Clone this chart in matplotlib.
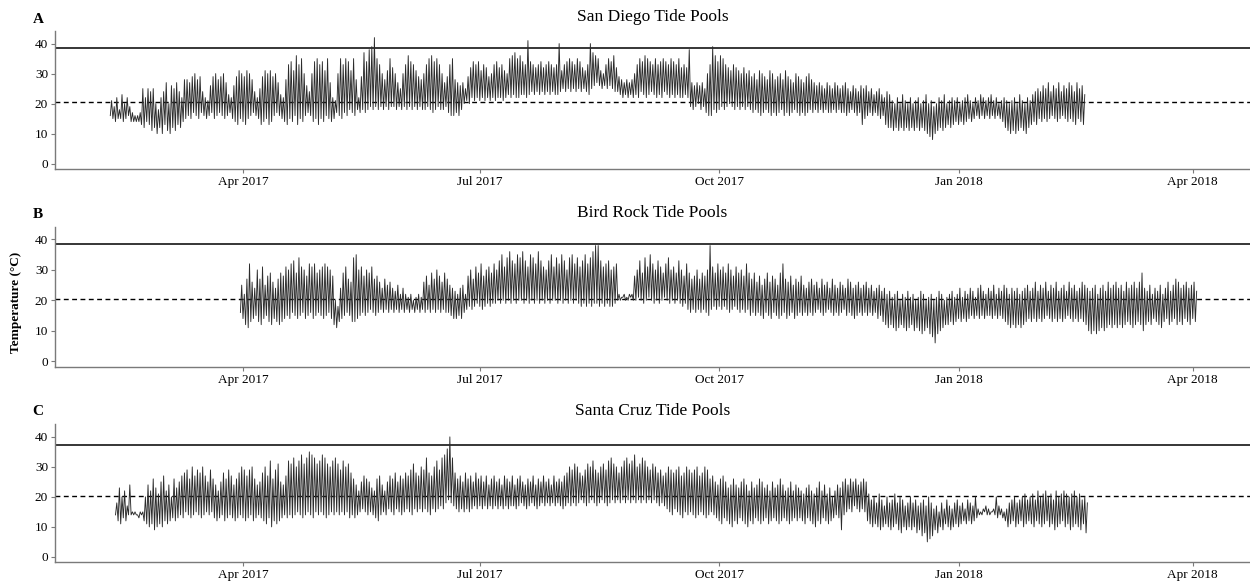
import numpy as np
import pandas as pd
import matplotlib
matplotlib.use('Agg')
import matplotlib.pyplot as plt
import matplotlib.dates as mdates

plt.rcParams['font.family'] = ['Liberation Serif', 'DejaVu Serif']

# temperaturas diarias (maxima y minima por dia)
sd_start = '2017-02-09'
sd_high = [
    21,19,22,18,23,20,22,19,17,16,16,17,25,22,25,
    24,25,20,18,22,24,27,20,26,25,27,24,22,28,28,
    27,29,30,28,29,24,22,21,26,29,30,28,29,30,27,
    23,22,26,29,31,30,29,31,30,28,24,22,25,29,31,
    30,31,29,30,27,23,22,28,33,34,31,36,33,35,30,
    26,24,30,34,35,33,34,31,35,27,22,21,30,35,33,
    35,34,31,35,28,22,29,37,34,38,39,42,35,33,30,
    28,31,35,32,30,27,25,30,33,36,34,33,31,29,28,
    30,33,35,36,34,35,33,30,27,29,33,35,28,27,26,
    27,25,29,32,34,33,34,31,33,32,29,30,33,34,32,
    33,31,30,35,36,37,35,36,34,33,41,34,33,32,33,
    34,32,33,34,33,32,33,40,31,33,34,35,34,33,35,
    34,32,31,33,40,37,36,35,31,30,33,35,34,36,32,
    29,28,27,28,27,28,30,33,35,34,36,35,34,33,35,
    33,34,35,34,33,35,34,33,35,32,33,32,38,27,26,
    27,26,27,25,30,33,39,36,34,36,35,33,32,31,33,
    32,31,30,32,30,31,29,30,28,31,30,29,28,31,30,
    28,29,30,28,31,29,28,27,30,29,28,27,29,30,28,
    27,26,27,26,25,27,26,25,27,26,25,26,27,25,24,
    26,25,24,26,25,26,24,25,23,24,25,23,22,24,23,
    21,20,22,20,23,21,20,22,20,21,22,20,21,23,20,
    21,19,20,22,21,23,20,21,22,21,22,20,21,22,23,
    21,20,22,21,23,22,21,22,23,21,22,20,21,22,21,
    20,21,22,20,23,21,20,22,21,23,24,25,24,26,25,
    27,24,26,25,27,24,26,25,27,26,24,27,25,26,23]
sd_low = [
    16,15,14,15,15,14,15,16,14,14,14,14,13,12,14,
    13,11,12,10,12,10,13,11,10,12,11,13,12,14,15,
    16,15,17,16,15,17,16,15,16,17,15,16,17,16,15,
    16,17,15,14,13,15,14,13,15,16,17,16,15,13,14,
    15,13,14,16,17,16,15,14,13,15,14,16,13,15,14,
    16,17,16,14,15,13,15,14,16,15,14,15,17,16,15,
    17,16,18,17,16,18,17,18,17,18,19,18,19,18,19,
    18,19,18,19,19,18,19,18,19,18,19,18,19,18,19,
    18,18,19,18,17,18,19,18,18,19,17,16,16,17,16,
    18,20,21,20,22,21,22,21,22,21,22,21,22,21,22,
    22,21,22,23,22,23,22,22,23,23,22,23,24,23,24,
    23,24,23,24,23,24,23,23,24,25,24,25,24,25,24,
    25,24,25,24,23,25,26,27,26,25,26,25,26,25,24,
    24,23,22,23,22,23,22,23,22,24,23,22,23,24,23,
    22,23,22,24,23,22,23,22,23,22,22,23,22,19,18,
    19,20,18,19,17,16,16,18,17,18,19,18,19,20,19,
    18,19,18,19,18,19,18,17,18,17,16,17,18,17,16,
    17,16,17,18,16,17,16,17,18,17,16,17,16,17,18,
    17,18,17,18,17,18,17,17,18,17,18,17,17,16,17,
    18,17,16,17,13,15,16,17,16,17,16,15,16,13,12,
    12,11,12,11,12,11,12,11,12,11,12,11,12,11,10,
    9,8,10,11,12,11,12,13,12,13,14,13,14,13,14,
    15,14,15,16,15,16,15,16,15,16,15,16,15,14,12,
    11,10,11,10,11,12,11,10,12,13,14,13,15,14,15,
    14,15,16,15,14,15,16,15,14,15,14,13,15,14,13]

br_start = '2017-03-31'
br_high = [
    25,22,27,32,26,24,30,27,31,25,28,29,26,24,27,29,
    28,31,30,32,33,29,34,31,30,28,32,31,32,29,30,31,
    32,31,30,28,20,18,24,29,31,27,26,34,35,30,31,28,
    30,29,31,27,28,26,24,27,25,26,24,23,25,22,24,22,
    21,22,20,21,22,21,26,28,25,29,27,30,28,26,29,27,
    25,24,23,22,24,25,22,28,30,27,31,29,32,28,30,31,
    29,32,30,33,35,31,34,36,33,32,35,34,36,33,31,35,
    34,32,36,33,31,30,33,35,31,34,32,35,33,30,34,35,
    32,34,31,33,35,32,34,36,38,38,33,31,32,33,30,31,
    32,22,21,22,21,22,22,28,30,33,29,34,31,35,32,30,
    33,31,29,32,34,30,31,29,33,30,28,32,29,27,28,30,
    27,29,28,30,38,31,29,32,30,31,29,32,30,28,31,29,
    30,28,32,29,27,29,26,28,25,27,29,26,28,27,25,29,
    32,27,26,28,25,27,26,28,25,24,26,27,25,26,24,27,
    25,26,24,27,25,24,26,25,24,27,26,24,25,26,24,25,
    26,24,25,23,24,25,23,24,22,23,21,22,23,20,22,21,
    23,21,22,20,21,23,22,20,21,22,20,21,23,22,20,21,
    22,23,21,22,24,21,23,22,24,23,21,24,25,23,22,24,
    23,25,22,24,23,25,24,22,24,23,24,22,23,24,25,23,
    24,26,23,25,24,26,23,25,24,26,23,24,25,23,26,24,
    25,23,24,26,25,24,23,24,25,22,24,25,23,26,24,25,
    26,24,25,23,26,24,25,26,24,26,29,24,23,25,22,24,
    23,25,22,24,26,23,25,27,26,24,25,26,24,25,26,23]
br_low = [
    16,14,12,11,13,14,15,13,12,14,15,13,12,14,13,12,
    13,14,15,14,16,15,14,15,16,14,15,16,14,15,16,15,
    14,15,16,14,12,11,13,14,15,16,15,13,13,14,15,16,
    15,16,17,16,15,16,17,16,17,16,17,16,17,16,17,16,
    17,16,17,16,17,16,17,16,17,16,17,16,17,16,17,16,
    16,15,14,14,15,14,16,17,18,17,18,19,18,17,18,19,
    18,19,19,20,19,20,19,20,19,20,19,20,20,19,20,19,
    20,19,20,19,20,19,20,19,20,20,19,20,19,20,19,20,
    19,20,19,18,19,18,19,18,19,19,18,19,18,19,18,18,
    19,20,20,21,20,20,21,20,20,21,20,19,20,21,20,19,
    20,19,20,21,20,19,20,19,20,19,18,19,17,16,17,16,
    17,16,17,16,15,17,18,17,18,17,18,17,16,17,18,17,
    16,17,16,17,15,16,15,16,15,14,16,15,14,16,15,14,
    15,16,14,15,16,14,15,16,15,16,15,16,15,16,17,16,
    15,16,17,16,15,16,15,16,17,15,16,15,14,15,16,15,
    16,15,16,15,16,14,15,13,12,11,12,11,10,11,12,11,
    10,11,12,10,11,10,9,10,11,9,8,6,9,10,11,12,
    12,13,12,13,14,13,14,13,14,15,14,15,14,15,14,15,
    15,14,15,14,15,14,13,12,11,12,11,12,11,12,13,14,
    13,14,13,14,13,14,15,14,13,14,13,14,13,14,15,14,
    13,14,13,14,13,12,10,9,10,9,10,11,10,11,12,11,
    12,11,12,11,12,13,12,11,12,13,12,10,12,13,12,14,
    13,12,11,13,14,12,13,14,12,13,12,14,13,12,14,13]

sc_start = '2017-02-11'
sc_high = [
    18,23,20,22,17,24,15,15,14,15,15,20,24,22,26,23,21,
    25,27,22,24,20,26,23,25,27,28,29,26,30,27,29,28,30,
    27,25,29,26,24,22,25,28,26,29,27,24,26,28,30,29,27,
    29,30,26,24,25,28,30,27,32,26,29,31,25,24,27,32,31,
    33,30,32,34,31,33,35,34,33,31,32,34,33,31,30,32,33,
    31,29,32,30,31,28,26,24,22,25,27,26,25,23,22,26,27,
    24,22,25,27,26,28,25,27,26,28,27,29,31,28,27,30,29,
    33,28,27,30,32,29,33,34,36,40,33,28,26,27,25,28,26,
    27,25,28,26,27,25,27,24,26,27,25,26,24,27,26,25,27,
    24,26,27,25,24,26,25,27,24,26,25,27,25,26,24,27,25,
    26,25,27,28,30,29,31,30,28,27,29,31,30,32,29,28,30,
    31,29,32,33,31,30,28,30,32,33,31,32,34,30,31,33,32,
    30,29,31,30,28,29,27,28,30,29,28,29,30,27,28,30,29,
    28,29,30,27,28,30,29,26,27,25,24,26,27,25,23,24,26,
    24,23,25,26,24,22,25,23,24,26,25,23,24,22,25,23,24,
    26,24,22,23,25,22,24,23,22,21,23,24,22,21,23,25,22,
    24,21,23,20,22,24,23,25,26,24,26,25,26,24,25,26,25,
    21,19,20,18,21,19,17,20,18,19,21,18,20,19,17,18,20,
    18,19,17,18,19,17,20,18,16,17,15,18,16,19,17,16,18,
    19,17,18,16,19,18,17,20,16,15,16,17,16,15,16,20,17,
    16,15,16,18,19,20,18,19,20,21,19,20,21,19,22,20,21,
    22,20,21,19,22,20,21,22,21,20,21,22,20,21,19,20,18]
sc_low = [
    14,12,11,13,12,14,14,14,14,13,14,12,11,10,11,9,10,
    11,10,12,11,12,13,12,13,14,13,15,14,13,14,15,14,13,
    14,15,14,15,13,12,13,14,12,13,14,13,12,13,14,13,12,
    13,14,12,13,14,13,12,11,13,10,12,11,12,13,14,13,14,
    13,14,15,14,13,14,15,14,13,15,14,15,14,13,14,15,14,
    15,14,15,14,15,13,14,13,14,15,16,15,14,15,14,13,12,
    14,15,14,16,15,14,16,15,14,15,16,15,14,16,15,16,15,
    16,15,14,16,15,16,17,16,18,19,18,17,16,15,16,15,16,
    15,16,17,16,17,16,17,16,17,16,17,16,17,16,17,16,17,
    17,16,17,18,17,16,17,18,17,16,17,18,17,18,17,18,17,
    18,17,16,17,18,17,18,17,18,19,18,17,18,19,18,17,18,
    19,18,17,18,19,18,19,18,19,18,19,18,19,18,19,18,19,
    18,19,18,19,18,17,18,17,16,15,14,16,15,14,13,15,14,
    15,14,13,14,15,14,13,14,15,14,13,12,11,13,12,11,10,
    12,11,13,12,11,10,12,11,13,12,11,12,13,11,12,13,12,
    11,12,13,12,11,12,13,12,13,12,11,13,12,11,10,12,11,
    13,12,11,12,13,14,13,9,14,15,16,15,17,16,15,16,15,
    12,11,10,11,10,9,10,11,10,9,10,11,9,8,10,9,10,
    9,10,8,9,7,8,5,6,7,9,8,10,9,11,10,9,10,
    11,10,11,12,11,12,11,12,13,14,14,15,14,14,15,14,13,
    14,13,12,10,11,12,10,11,12,10,11,12,11,10,12,11,10,
    11,12,10,11,9,10,11,12,10,11,9,10,11,10,9,11,8]

titles = ['San Diego Tide Pools', 'Bird Rock Tide Pools', 'Santa Cruz Tide Pools']
letters = ['A', 'B', 'C']
upper_lines = [38.6, 38.5, 37.2]
mean_lines = [20.4, 20.5, 20.4]
tick_dates = ['2017-04-01', '2017-07-01', '2017-10-01', '2018-01-01', '2018-04-01']
tick_labels = ['Apr 2017', 'Jul 2017', 'Oct 2017', 'Jan 2018', 'Apr 2018']

series = [(sd_start, sd_high, sd_low), (br_start, br_high, br_low), (sc_start, sc_high, sc_low)]
for s, h, l in series:
    assert len(h) == len(l), (s, len(h), len(l))

fig = plt.figure(figsize=(12.5, 5.82), dpi=100)
# posiciones de los paneles (fraccion de la figura)
boxes = [(0.044, 0.7096, 0.956, 0.2371),
         (0.044, 0.3700, 0.956, 0.2405),
         (0.044, 0.0339, 0.956, 0.2371)]
letter_y = [0.966, 0.631, 0.293]

x0 = mdates.date2num(pd.Timestamp('2017-01-18 18:00'))
x1 = mdates.date2num(pd.Timestamp('2018-04-23'))

for k in range(3):
    start, hi, lo = series[k]
    ax = fig.add_axes(boxes[k])
    t = mdates.date2num(pd.Timestamp(start)) + np.arange(len(hi))
    # serie en zigzag: minimo de madrugada, maximo a mediodia
    tx = np.column_stack([t, t + 0.5]).ravel()
    ty = np.column_stack([lo, hi]).ravel()
    ax.axhline(upper_lines[k], color='black', lw=1.1, zorder=1)
    ax.axhline(mean_lines[k], color='black', lw=1.0, ls=(0, (3.5, 2.5)), zorder=1)
    ax.plot(tx, ty, color='#2b2b2b', lw=0.65, zorder=2)
    ax.set_xlim(x0, x1)
    ax.set_ylim(-1.8, 44.2)
    ax.set_yticks([0, 10, 20, 30, 40])
    ax.set_xticks([mdates.date2num(pd.Timestamp(d)) for d in tick_dates])
    ax.set_xticklabels(tick_labels)
    for sp in ['top', 'right']:
        ax.spines[sp].set_visible(False)
    for sp in ['left', 'bottom']:
        ax.spines[sp].set_color('#7a7a7a')
        ax.spines[sp].set_linewidth(1.0)
    ax.tick_params(colors='#7a7a7a', labelcolor='black', labelsize=9.5, length=3, width=0.8, pad=2)
    ax.set_title(titles[k], fontsize=12.5, pad=7)
    fig.text(0.026, letter_y[k], letters[k], fontsize=11, fontweight='bold', ha='left', va='center')

fig.text(0.013, 0.48, 'Temperature (°C)', rotation=90, fontsize=9.5, fontweight='bold', ha='center', va='center')

fig.savefig('out.png', dpi=100)
